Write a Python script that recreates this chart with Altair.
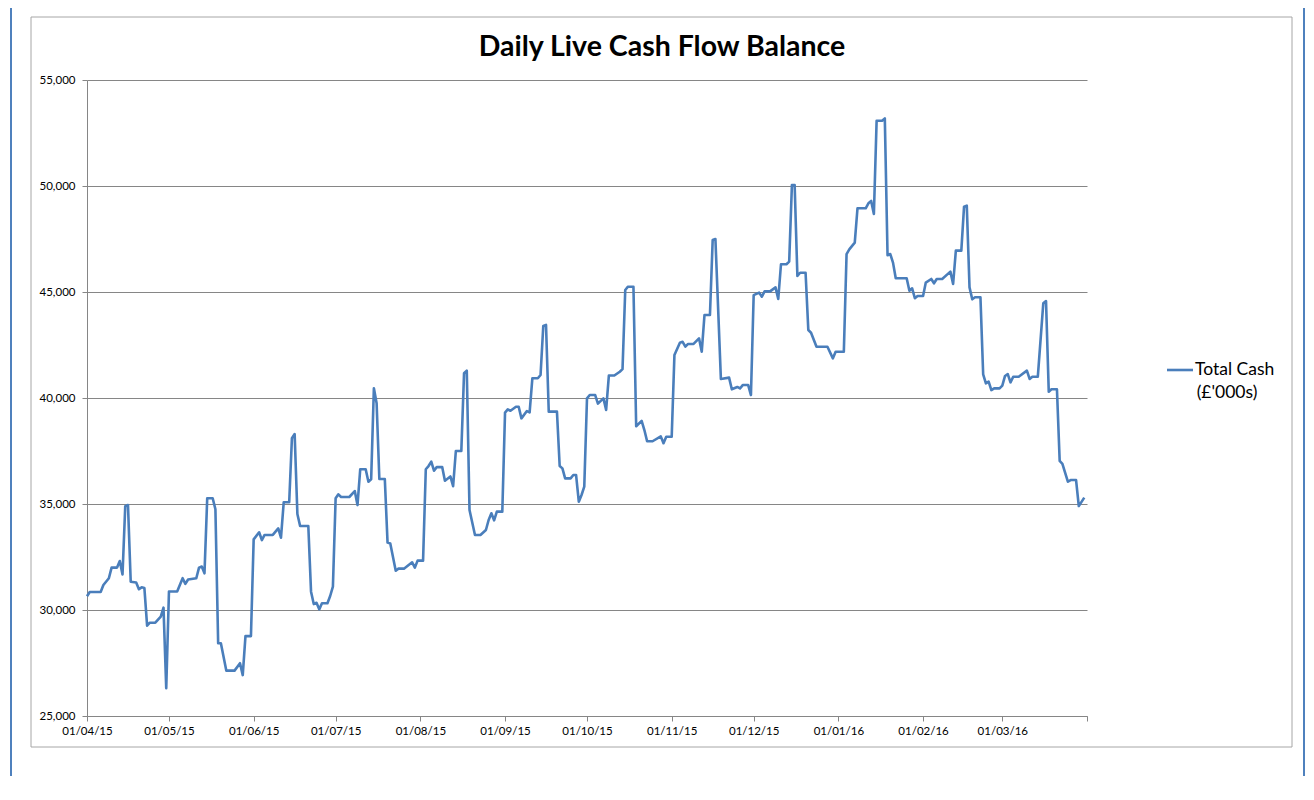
import altair as alt
import pandas as pd

# ---------------- data ----------------
day_offset = [
    0, 1, 5, 6, 8, 9, 11, 12, 13, 14, 15, 16, 18, 19, 20, 21, 22, 23, 25, 27, 28, 29,
    30, 33, 35, 36, 37, 40, 41, 42, 43, 44, 46, 47, 48, 49, 51, 54, 56, 57, 58, 60,
    61, 63, 64, 65, 68, 70, 71, 72, 74, 75, 76, 77, 78, 81, 82, 83, 84, 85, 86, 88,
    89, 90, 91, 92, 93, 96, 98, 99, 100, 102, 103, 104, 105, 106, 107, 109, 110, 111,
    113, 114, 116, 119, 120, 121, 123, 124, 125, 126, 127, 128, 130, 131, 133, 134,
    135, 137, 138, 139, 140, 142, 144, 146, 147, 148, 149, 150, 152, 153, 154, 155,
    157, 158, 159, 161, 162, 163, 165, 166, 167, 168, 169, 172, 173, 174, 175, 177,
    178, 179, 180, 181, 182, 183, 184, 186, 187, 189, 190, 191, 193, 195, 196, 197,
    198, 200, 201, 203, 204, 205, 207, 210, 211, 212, 214, 215, 217, 218, 219, 220,
    222, 224, 225, 226, 228, 229, 230, 232, 235, 236, 238, 239, 240, 242, 243, 244,
    246, 247, 248, 250, 252, 253, 254, 256, 257, 258, 259, 260, 261, 263, 264, 265,
    267, 271, 273, 274, 277, 278, 279, 281, 282, 285, 286, 287, 288, 289, 291, 292,
    293, 294, 295, 296, 300, 301, 302, 303, 304, 306, 307, 309, 310, 311, 313, 316,
    317, 318, 320, 321, 322, 323, 324, 325, 327, 328, 329, 330, 331, 332, 334, 335,
    336, 337, 338, 339, 341, 344, 345, 346, 348, 350, 351, 352, 353, 355, 356, 357,
    359, 360, 362, 363, 364, 365,
]
total_cash = [
    30650, 30850, 30850, 31180, 31500, 32000, 32000, 32310, 31680, 34900, 34950, 31330,
    31300, 30980, 31070, 31040, 29260, 29400, 29400, 29690, 30110, 26310,
    30870, 30870, 31500, 31230, 31440, 31500, 32000, 32050, 31730, 35270, 35270, 34750,
    28430, 28430, 27140, 27140, 27490, 26930, 28770, 28770,
    33330, 33665, 33300, 33540, 33540, 33850, 33410, 35080, 35080, 38100, 38300, 34530,
    33960, 33960, 30865, 30280, 30340, 30030, 30320, 30320,
    30660, 31100, 35270, 35455, 35330, 35330, 35610, 34950, 36640, 36640, 36050, 36165,
    40460, 39750, 36180, 36180, 33180, 33140,
    31855, 31950, 31950, 32250, 32000, 32330, 32330, 36640, 36790, 36995, 36570, 36740,
    36740, 36100, 36300, 35840,
    37500, 37500, 41165, 41290, 34720, 33540, 33540, 33775, 34245, 34560, 34230, 34640,
    34640, 39310, 39465, 39400,
    39590, 39590, 39040, 39385, 39320, 40930, 40930, 41085, 43400, 43450, 39355, 39355,
    36790, 36680, 36210, 36210,
    36370, 36370, 35110, 35425, 35820, 39985, 40140, 40140, 39735, 39985, 39435, 41060,
    41060, 41240, 41360, 45095,
    45250, 45250, 38670, 38920, 38490, 37960, 37960, 38190, 37865, 38175, 38175, 42030,
    42610, 42650, 42420, 42550,
    42550, 42815, 42185, 43915, 43915, 47450, 47500, 40900, 40960, 40410, 40520, 40450,
    40610, 40610, 40140, 44850,
    44970, 44780, 45030, 45030, 45220, 44670, 46310, 46310, 46435, 50050, 50050, 45755,
    45910, 45910, 43205, 43080,
    42420, 42420, 41870, 42185, 42185, 46790, 47010, 47330, 48950, 48950, 49185, 49295,
    48680, 53080, 53080, 53190,
    46730, 46790, 46385, 45650, 45650, 45060, 45175, 44705, 44810, 44810, 45445, 45615,
    45410, 45615, 45615, 45960,
    45380, 46950, 46950, 49025, 49075, 45220, 44655, 44750, 44750, 41115, 40690, 40770,
    40375, 40455, 40455, 40585,
    41040, 41130, 40740, 41005, 41005, 41290, 40900, 41005, 41005, 44465, 44575, 40300,
    40410, 40410, 37030, 36890,
    36050, 36130, 36130, 34905, 35100, 35300,
]
tick_months = [(2015, m) for m in range(4, 13)] + [(2016, m) for m in range(1, 5)]
y_ticks = [25000, 30000, 35000, 40000, 45000, 50000, 55000]
title_text = "Daily Live Cash Flow Balance"
legend_line1 = "Total Cash"
legend_line2 = "(£'000s)"

start = pd.Timestamp("2015-04-01")
df = pd.DataFrame({
    "date": start + pd.to_timedelta(day_offset, unit="D"),
    "cash": total_cash,
})

# ---------------- styling ----------------
W, H = 1000, 636
PAD = {"left": 79, "top": 72, "right": 218, "bottom": 60}
BLUE = "#4A7EBB"
GRID = "#868686"
FONT = "Lato"

x_values = [alt.DateTime(year=y, month=m, date=1) for (y, m) in tick_months]
x_domain = [alt.DateTime(year=2015, month=4, date=1), alt.DateTime(year=2016, month=4, date=1)]

line = alt.Chart(df).mark_line(color=BLUE, strokeWidth=2.6, strokeJoin="round").encode(
    x=alt.X(
        "date:T",
        scale=alt.Scale(domain=x_domain, nice=False),
        axis=alt.Axis(
            title=None, values=x_values, format="%d/%m/%y",
            labelExpr="datum.label == '01/04/16' ? '' : datum.label",
            grid=False, domainColor=GRID, tickColor=GRID, tickSize=5,
            labelFont=FONT, labelFontSize=11.5, labelColor="#000000",
            labelPadding=4, labelOverlap=False, labelFlush=False,
        ),
    ),
    y=alt.Y(
        "cash:Q",
        scale=alt.Scale(domain=[25000, 55000], nice=False, zero=False),
        axis=alt.Axis(
            title=None, values=y_ticks, format=",.0f",
            grid=True, gridColor=GRID, gridWidth=1,
            domainColor=GRID, tickColor=GRID, tickSize=5,
            labelFont=FONT, labelFontSize=11.5, labelColor="#000000",
            labelPadding=7,
        ),
    ),
)

one = pd.DataFrame({"k": [0]})
frame_blue = "#4F81BD"
bottom_edge = H + PAD["bottom"]
right_edge = W + PAD["right"] - 1
blue_left = alt.Chart(one).mark_rule(color=frame_blue, strokeWidth=2).encode(
    x=alt.value(-76), y=alt.value(-74), y2=alt.value(bottom_edge))
blue_top = alt.Chart(one).mark_rule(color=frame_blue, strokeWidth=2).encode(
    x=alt.value(-76), x2=alt.value(right_edge), y=alt.value(-74))
blue_right = alt.Chart(one).mark_rule(color=frame_blue, strokeWidth=2).encode(
    x=alt.value(right_edge), y=alt.value(-74), y2=alt.value(bottom_edge))
gray_box = alt.Chart(one).mark_rect(fillOpacity=0, stroke="#A6A6A6", strokeWidth=1).encode(
    x=alt.value(-56), x2=alt.value(1205), y=alt.value(-63), y2=alt.value(667))

title = alt.Chart(pd.DataFrame({"t": [title_text]})).mark_text(
    font=FONT, fontSize=28.5, fontWeight="bold", align="center", baseline="middle", color="#000000"
).encode(text="t:N", x=alt.value(575), y=alt.value(-33))

legend_sym = alt.Chart(one).mark_rule(color=BLUE, strokeWidth=2.6).encode(
    x=alt.value(1080), x2=alt.value(1106), y=alt.value(290))
legend_t1 = alt.Chart(pd.DataFrame({"t": [legend_line1]})).mark_text(
    font=FONT, fontSize=17.5, align="left", baseline="middle", color="#000000"
).encode(text="t:N", x=alt.value(1108), y=alt.value(290))
legend_t2 = alt.Chart(pd.DataFrame({"t": [legend_line2]})).mark_text(
    font=FONT, fontSize=17.5, align="center", baseline="middle", color="#000000"
).encode(text="t:N", x=alt.value(1140), y=alt.value(313))

chart = alt.layer(
    gray_box, blue_left, blue_top, blue_right, line, title, legend_sym, legend_t1, legend_t2
).properties(
    width=W, height=H,
    padding=PAD,
    autosize=alt.AutoSizeParams(type="none"),
    background="white",
).configure_view(stroke=None)

chart.save("out.html", embed_options={"renderer": "svg", "actions": False})
